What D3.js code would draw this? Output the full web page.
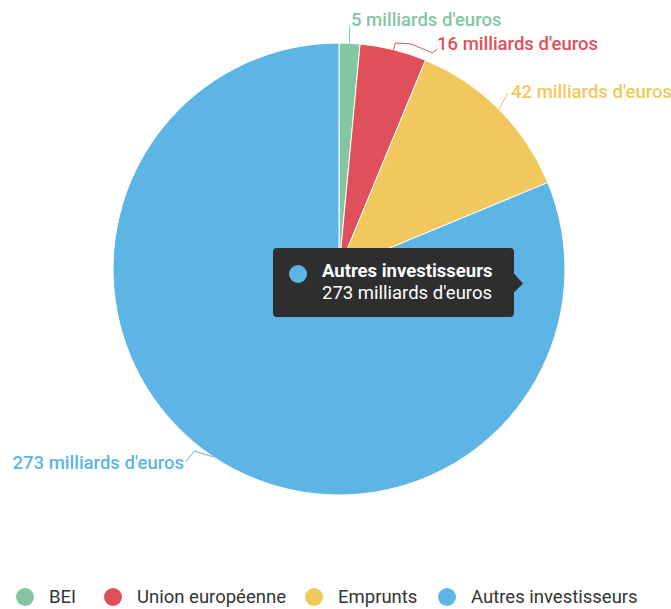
<!DOCTYPE html>
<html lang="fr">
<head>
<meta charset="utf-8">
<script src="https://cdn.jsdelivr.net/npm/d3@7"></script>
<style>
  html, body { margin: 0; padding: 0; background: #ffffff; }
  svg { display: block; font-family: Roboto, "Noto Sans", Arial, sans-serif; }
</style>
</head>
<body>
<svg id="chart" width="671" height="609"></svg>
<script>
// Sources de financement (milliards d'euros)
const categories = ["BEI", "Union européenne", "Emprunts", "Autres investisseurs"];
const values = [5, 16, 42, 273];
const unit = "milliards d'euros";
const colors = ["#84c6a2", "#e0505a", "#f1c75e", "#5cb5e5"];

const svg = d3.select("#chart");
const cx = 339, cy = 269, R = 226;
const FS = 18.5;

const pie = d3.pie().sort(null).value(d => d.value);
const arcs = pie(categories.map((c, i) => ({ name: c, value: values[i], color: colors[i] })));
const arc = d3.arc().innerRadius(0).outerRadius(R);

const g = svg.append("g").attr("transform", `translate(${cx},${cy})`);

g.selectAll("path.slice")
  .data(arcs)
  .join("path")
  .attr("class", "slice")
  .attr("d", arc)
  .attr("fill", d => d.data.color)
  .attr("stroke", "#ffffff")
  .attr("stroke-width", 1)
  .attr("stroke-linejoin", "round");

// Data labels with connectors
const onEdge = (a, r) => [Math.sin(a) * r, -Math.cos(a) * r];
const labelSpecs = [
  { anchor: "start", text: [12, -249], path: (p) => [p, [p[0], -243]] },
  { anchor: "start", text: [98, -225], path: (p) => [p, [p[0] + 2, -226], [p[0] + 18, -225], [p[0] + 39, -216], [p[0] + 44, -220]] },
  { anchor: "start", text: [172, -177], path: (p) => [p, [p[0] + 9, -176]] },
  { anchor: "end", text: [-155, 194], path: (p) => [p, [p[0] - 19, 182], [p[0] - 28, 193]] }
];

arcs.forEach((d, i) => {
  const mid = (d.startAngle + d.endAngle) / 2;
  const p = onEdge(mid, R);
  const spec = labelSpecs[i];
  g.append("path")
    .attr("d", d3.line()(spec.path(p)))
    .attr("fill", "none")
    .attr("stroke", d.data.color)
    .attr("stroke-width", 1);
  g.append("text")
    .attr("x", spec.text[0])
    .attr("y", spec.text[1])
    .attr("dy", "0.35em")
    .attr("text-anchor", spec.anchor)
    .attr("fill", d.data.color)
    .attr("font-size", FS)
    .attr("font-weight", 500)
    .text(`${d.data.value} ${unit}`);
});

// Tooltip for the largest slice
const tip = arcs[3];
const tg = svg.append("g").attr("transform", "translate(273,248)");
const tw = 241, th = 69;
tg.append("path")
  .attr("d", `M4,0 H${tw - 4} Q${tw},0 ${tw},4 V${th / 2 - 9} L${tw + 9},${th / 2 + 1} L${tw},${th / 2 + 10} V${th - 4} Q${tw},${th} ${tw - 4},${th} H4 Q0,${th} 0,${th - 4} V4 Q0,0 4,0 Z`)
  .attr("fill", "#2e2e2e");
tg.append("circle").attr("cx", 25).attr("cy", 26).attr("r", 9).attr("fill", tip.data.color);
tg.append("text").attr("x", 49).attr("y", 29).attr("fill", "#ffffff")
  .attr("font-size", FS).attr("font-weight", 700).text(tip.data.name);
tg.append("text").attr("x", 49).attr("y", 51).attr("fill", "#ffffff")
  .attr("font-size", FS).text(`${tip.data.value} ${unit}`);

// Legend
const legendX = [25, 113, 314, 447];
const lg = svg.append("g").attr("transform", "translate(0,597)");
categories.forEach((c, i) => {
  lg.append("circle").attr("cx", legendX[i]).attr("cy", 0).attr("r", 9).attr("fill", colors[i]);
  lg.append("text").attr("x", legendX[i] + 24).attr("y", 0).attr("dy", "0.35em")
    .attr("fill", "#333333").attr("font-size", FS).text(c);
});
</script>
</body>
</html>
